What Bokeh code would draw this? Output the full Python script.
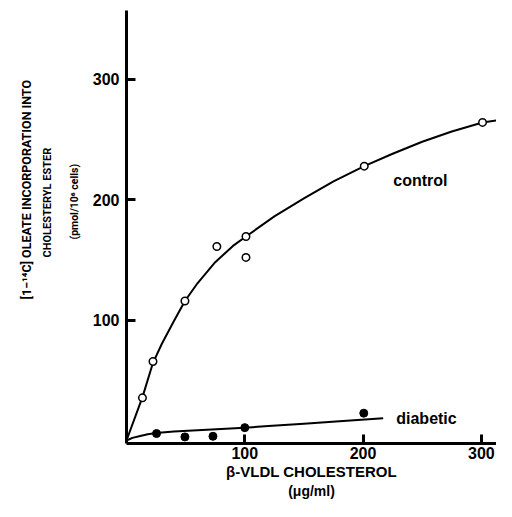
from bokeh.plotting import figure
from bokeh.models import Range1d, FixedTicker, Label, LinearAxis, Title
from bokeh.embed import file_html
from bokeh.resources import INLINE

# ---- data ----
control_x = [13.5, 22.4, 49.4, 76.4, 101, 101, 201, 301]
control_y = [35.4, 65.6, 115.8, 161, 169.3, 152, 227.7, 264]
diabetic_x = [25.4, 49.4, 73.1, 100, 200.6]
diabetic_y = [5.8, 3.0, 3.5, 10.7, 22.7]
control_curve_x = [0, 13.5, 22.4, 30, 40, 49.4, 60, 75, 90, 101, 125, 150, 175, 201, 225, 250, 275, 301, 315]
control_curve_y = [0, 36, 64.5, 80.5, 99, 115.8, 130.5, 148, 161.5, 169.3, 186, 201, 215, 227.7, 238, 248, 256.5, 264, 266]
diabetic_curve_x = [0, 5, 11.6, 18, 25, 40, 60, 80, 100, 120, 150, 180, 217]
diabetic_curve_y = [0, 2.2, 3.8, 5.2, 6.2, 7.4, 8.5, 9.6, 10.7, 12, 14, 16, 18.4]
x_ticks = [100, 200, 300]
y_ticks = [100, 200, 300]
y_title_lines = ["[1\u2212\u00b9\u2074C] OLEATE INCORPORATION INTO", "CHOLESTERYL ESTER", "(pmol/10\u2076 cells)"]
x_title_lines = ["\u03b2-VLDL CHOLESTEROL", "(\u03bcg/ml)"]

W, H = 496, 501
BL, BR, BT, BB = 126, 0, 10, 55
X0, X1 = 0, 312.8
Y0, Y1 = -2.47, 356.9
FONT = "Liberation Sans"
YFONT = "Roboto"

p = figure(width=W, height=H, output_backend="svg", toolbar_location=None,
           x_range=Range1d(X0, X1), y_range=Range1d(Y0, Y1),
           min_border_left=BL, min_border_right=BR, min_border_top=BT, min_border_bottom=BB)
p.outline_line_color = None
p.grid.visible = False
p.background_fill_color = "white"
p.border_fill_color = "white"

for ax, ticks in ((p.xaxis[0], x_ticks), (p.yaxis[0], y_ticks)):
    ax.ticker = FixedTicker(ticks=ticks)
    ax.axis_line_width = 3
    ax.axis_line_color = "black"
    ax.major_tick_line_width = 3
    ax.major_tick_line_color = "black"
    ax.major_tick_in = 9
    ax.major_tick_out = 0
    ax.minor_tick_line_color = None
    ax.major_label_text_font = FONT
    ax.major_label_text_font_style = "bold"
    ax.major_label_text_font_size = "16px"
    ax.major_label_text_color = "black"
p.yaxis[0].major_label_standoff = 7
p.xaxis[0].major_label_standoff = 3

# x title, first line on the main axis
p.xaxis[0].axis_label = x_title_lines[0]
p.xaxis[0].axis_label_text_font = FONT
p.xaxis[0].axis_label_text_font_style = "bold"
p.xaxis[0].axis_label_text_font_size = "15px"
p.xaxis[0].axis_label_text_color = "black"
p.xaxis[0].axis_label_standoff = 1

# second x-title line
p.add_layout(LinearAxis(ticker=FixedTicker(ticks=[]), axis_line_color=None,
                        major_tick_line_color=None, minor_tick_line_color=None,
                        major_tick_in=0, major_tick_out=0, minor_tick_in=0, minor_tick_out=0,
                        major_label_standoff=0, major_label_text_font_size="1px",
                        axis_label=x_title_lines[1], axis_label_text_font=FONT,
                        axis_label_text_font_style="bold", axis_label_text_font_size="14px",
                        axis_label_text_color="black", axis_label_standoff=0), "below")

# y title: three lines, innermost first (left-aligned titles, offset from frame bottom)
for text, size, offset, standoff in ((y_title_lines[2], "10.5px", 204, 17.5),
                                     (y_title_lines[1], "11px", 186, 6),
                                     (y_title_lines[0], "12.5px", 144, 4)):
    p.add_layout(Title(text=text, text_font=YFONT, text_font_style="bold",
                       text_font_size=size, text_color="black", align="left",
                       offset=offset, standoff=standoff), "left")

p.line(control_curve_x, control_curve_y, line_color="black", line_width=2)
p.line(diabetic_curve_x, diabetic_curve_y, line_color="black", line_width=2)
p.scatter(control_x, control_y, marker="circle", size=7.5, fill_color="white",
          line_color="black", line_width=1.5)
p.scatter(diabetic_x, diabetic_y, marker="circle", size=8, fill_color="black",
          line_color="black", line_width=1)


def lab(text, x, y, size):
    p.add_layout(Label(x=x, y=y, text=text, text_font=FONT, text_font_style="bold",
                       text_font_size=size, text_align="center", text_baseline="middle",
                       text_color="black"))


lab("control", 248.5, 216, "16px")
lab("diabetic", 253.6, 18.1, "16px")

open("out.html", "w").write(file_html(p, INLINE))
